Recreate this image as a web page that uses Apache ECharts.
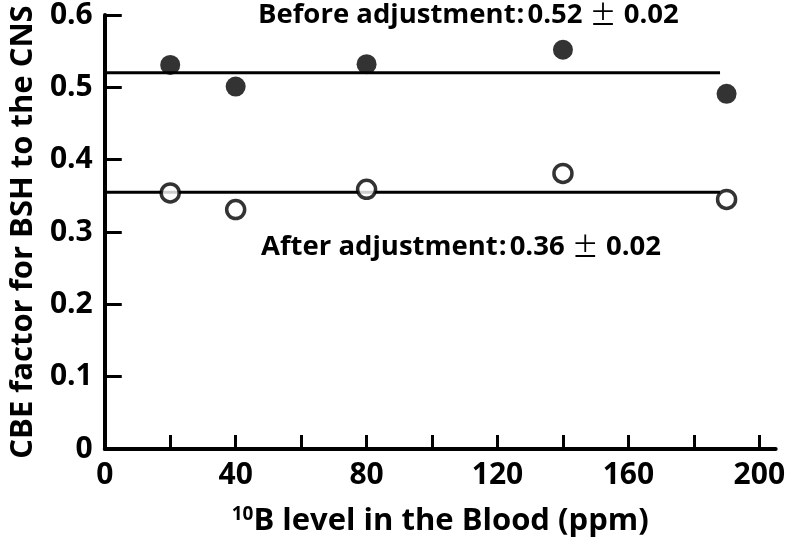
<!DOCTYPE html>
<html>
<head>
<meta charset="utf-8">
<script src="https://cdn.jsdelivr.net/npm/echarts@6/dist/echarts.min.js"></script>
<style>
  html, body { margin: 0; padding: 0; background: #fff; }
  #chart { width: 788px; height: 543px; }
</style>
</head>
<body>
<div id="chart"></div>
<script>
// blood boron level (ppm)
var bloodLevels = [20, 40, 80, 140, 190]
// CBE factor before / after adjustment
var beforeValues = [0.531, 0.501, 0.532, 0.552, 0.491]
var afterValues = [0.354, 0.331, 0.359, 0.381, 0.345]
// mean lines
var meanX = [0, 188]
var beforeMean = 0.52
var afterMean = 0.355
var xLabelValues = [0, 40, 80, 120, 160, 200]
var xTickValues = [0, 20, 40, 60, 80, 100, 120, 140, 160, 180, 200]

var font = '"Open Sans", sans-serif'
var cjkFont = '"Noto Sans CJK KR", sans-serif'

function pairs (xs, ys) {
  return xs.map(function (x, i) { return [x, ys[i]] })
}

// annotation text styles
var noteRich = {
  a: { fontFamily: font, fontWeight: 'bold', fontSize: 27.5, fill: '#000' },
  c: { fontFamily: font, fontWeight: 'bold', fontSize: 27.5, fill: '#000', padding: [0, 3, 0, 1] },
  p: { fontFamily: cjkFont, fontWeight: 'normal', fontSize: 27, fill: '#000' }
}

var chart = echarts.init(document.getElementById('chart'))
chart.setOption({
  animation: false,
  grid: { left: 103, right: 12, top: 13, bottom: 94 },
  xAxis: {
    type: 'value',
    min: 0,
    max: 205,
    name: '{sup|10}B level in the Blood (ppm)',
    nameLocation: 'middle',
    nameGap: 56,
    nameTextStyle: {
      fontFamily: font, fontWeight: 'bold', fontSize: 31, color: '#000',
      rich: {
        sup: { fontFamily: font, fontWeight: 'bold', fontSize: 19, color: '#000', verticalAlign: 'top', padding: [0, 0, 13, 0] }
      }
    },
    axisLine: { lineStyle: { color: '#000', width: 4 } },
    axisTick: { inside: true, length: 14, lineStyle: { color: '#000', width: 3 }, customValues: xTickValues },
    axisLabel: { fontFamily: font, fontWeight: 'bold', fontSize: 30, color: '#000', margin: 11, customValues: xLabelValues },
    splitLine: { show: false }
  },
  yAxis: {
    type: 'value',
    min: 0,
    max: 0.6,
    interval: 0.1,
    name: 'CBE factor for BSH to the CNS',
    nameLocation: 'middle',
    nameGap: 62,
    nameTextStyle: { fontFamily: font, fontWeight: 'bold', fontSize: 31, color: '#000' },
    axisLine: { lineStyle: { color: '#000', width: 4 } },
    axisTick: { inside: true, length: 17, lineStyle: { color: '#000', width: 3 } },
    axisLabel: { fontFamily: font, fontWeight: 'bold', fontSize: 30, color: '#000', margin: 12 },
    splitLine: { show: false }
  },
  graphic: [
    {
      type: 'text', left: 258, top: 1,
      style: { text: '{a|Before adjustment}{c|:}{a|0.52 }{p|±}{a| 0.02}', rich: noteRich }
    },
    {
      type: 'text', left: 261, top: 233,
      style: { text: '{a|After adjustment}{c|:}{a|0.36 }{p|±}{a| 0.02}', rich: noteRich }
    }
  ],
  series: [
    {
      type: 'line',
      data: pairs(meanX, [beforeMean, beforeMean]),
      symbol: 'none',
      lineStyle: { color: '#000', width: 3 },
      z: 1
    },
    {
      type: 'line',
      data: pairs(meanX, [afterMean, afterMean]),
      symbol: 'none',
      lineStyle: { color: '#000', width: 3 },
      z: 1
    },
    {
      type: 'scatter',
      data: pairs(bloodLevels, beforeValues),
      symbol: 'circle',
      symbolSize: 20,
      itemStyle: { color: '#000' },
      z: 3
    },
    {
      type: 'scatter',
      data: pairs(bloodLevels, afterValues),
      symbol: 'circle',
      symbolSize: 18,
      itemStyle: { color: '#fff', borderColor: '#000', borderWidth: 3.5 },
      z: 3
    }
  ]
})
</script>
</body>
</html>
